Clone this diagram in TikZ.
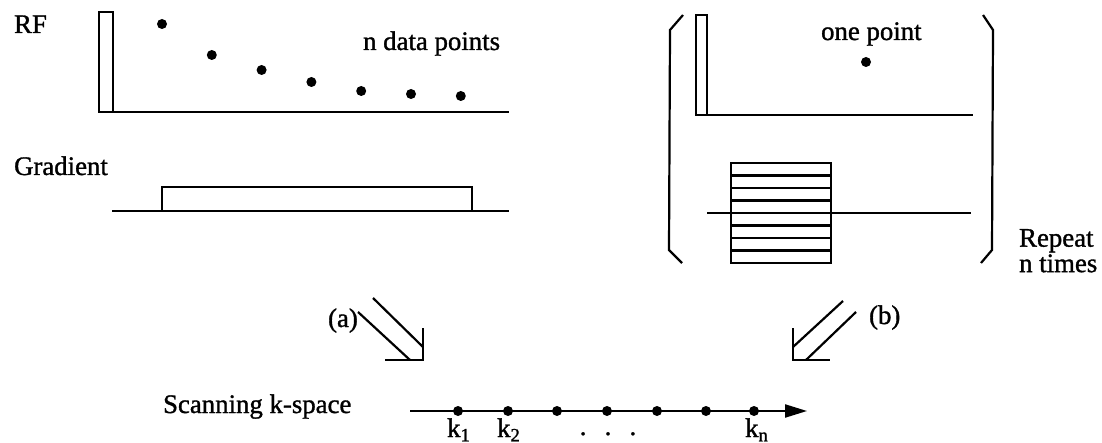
\documentclass[tikz,border=0pt]{standalone}
\usepackage{fontspec}
\setmainfont{Liberation Serif}[RawFeature={embolden=1.2}]
\usetikzlibrary{arrows.meta,positioning}

\begin{document}
\begin{tikzpicture}[
      x=0.5pt, y=-0.5pt, line width=1.1pt,
      lbl/.style={font=\fontsize{13.4}{9.5}\selectfont, inner sep=0pt},
      pulse/.style={draw, fill=white},
      datadot/.style={circle, fill, inner sep=0pt, minimum size=5pt},
      kdot/.style={circle, fill, inner sep=0pt, minimum size=5pt},
      axis/.style={-{Triangle[length=11pt,width=6.5pt]}}
    ]
    \useasboundingbox (0,0) rectangle (1102,443);

    % (a) one echo, n samples
    \node[lbl, anchor=base west] (rf) at (13,33) {RF};
    \coordinate (rfa) at (99,112);
    \coordinate (rfb) at (509,112);
    \draw (rfa) -- (rfb);
    \draw[pulse] (rfa) rectangle (113,12);
    \foreach \i/\y in {0/24,1/55,2/70,3/82,4/91,5/94,6/96}
      \node[datadot] (s\i) at (162+49.8*\i,\y) {};
    \node[lbl, anchor=base west] (ndata) at (362,50) {n data points};

    \node[lbl, anchor=base west] (grad) at (13,175) {Gradient};
    \coordinate (gra) at (112,211);
    \coordinate (grb) at (509,211);
    \draw (gra) -- (grb);
    \draw (162,211) rectangle (472,187);

    % (b) one point per excitation
    \draw (683,15) -- (670,30) -- (669,250) -- (682,263);
    \draw (983,15) -- (993,30) -- (992,250) -- (981,263);
    \coordinate (rfc) at (696,115);
    \coordinate (rfd) at (973,115);
    \draw (rfc) -- (rfd);
    \draw[pulse] (rfc) rectangle (707,15);
    \node[lbl, anchor=base west] (onept) at (820,40) {one point};
    \node[datadot] (p1) at (866,62) {};

    \draw (731,163) rectangle (831,263);
    \foreach \k in {1,...,7}
      \draw (731,163+12.5*\k) -- (831,163+12.5*\k);
    \coordinate (grc) at (707,213);
    \coordinate (grd) at (971,213);
    \draw (grc) -- (grd);
    \node[lbl, anchor=north west, align=left] (rep) at (1018,228) {Repeat\\n times};

    % hollow arrows
    \node[lbl, anchor=base west] (la) at (327,327) {(a)};
    \coordinate (ta) at (423,360);
    \draw (373,298) -- (423,347);
    \draw (358,312) -- (410,360);
    \draw (423,328) -- (ta) -- (385,360);

    \node[lbl, anchor=base west] (lb) at (868,324) {(b)};
    \coordinate (tb) at (793,360);
    \draw (843,301) -- (793,347);
    \draw (856,312) -- (806,360);
    \draw (793,328) -- (tb) -- (830,360);

    % k-space line
    \node[lbl, anchor=base west] (scan) at (162,413) {Scanning k-space};
    \coordinate (ka) at (410,411);
    \coordinate (kb) at (807,411);
    \draw[axis] (ka) -- (kb);
    \foreach \i/\x in {1/458,2/508,3/557,4/607,5/657,6/706,7/754}
      \node[kdot] (k\i) at (\x,411) {};
    \node[lbl, anchor=base] (k1l) at (459,437) {k\textsubscript{1}};
    \node[lbl, anchor=base] (k2l) at (509,437) {k\textsubscript{2}};
    \node[lbl, anchor=base] (knl) at (757,437) {k\textsubscript{n}};
    \node[lbl, anchor=base] (kdots) at (608,435) {.\hspace{9.1pt}.\hspace{9.1pt}.};
  \end{tikzpicture}
\end{document}
